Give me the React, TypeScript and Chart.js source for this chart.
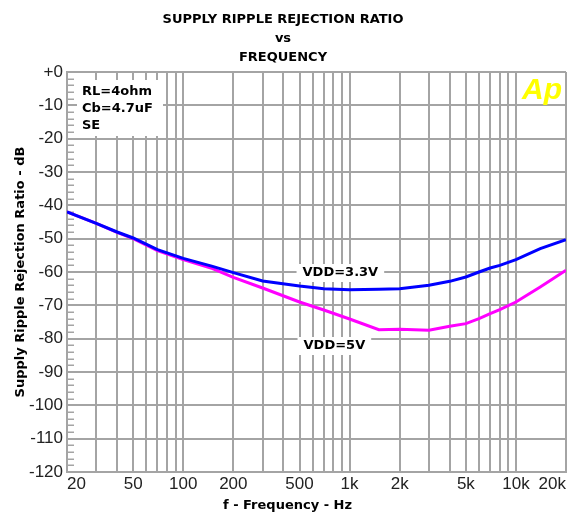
import React, { useEffect, useRef } from 'react';
import { Chart, registerables } from 'chart.js';

Chart.register(...registerables);

// ---- data ----
const frequencyHz = [20, 30, 40, 50, 70, 100, 150, 200, 300, 500, 700, 1000, 1500, 2000, 3000, 4000, 5000, 6000, 7000, 8000, 10000, 14000, 20000];
const vdd33Db = [-42, -45.4, -48, -49.8, -53.3, -55.9, -58.3, -60.2, -62.7, -64.2, -65, -65.3, -65.2, -65, -64, -62.8, -61.5, -60, -58.8, -58, -56.3, -53, -50.3];
const vdd5Db = [-42, -45.4, -48.1, -50, -53.6, -56.3, -59, -61.6, -64.8, -69, -71.4, -74.1, -77.3, -77.2, -77.5, -76.3, -75.5, -74, -72.5, -71.3, -69, -64.5, -59.5];

const xGridHz = [20, 30, 40, 50, 60, 70, 80, 90, 100, 200, 300, 400, 500, 600, 700, 800, 900, 1000, 2000, 3000, 4000, 5000, 6000, 7000, 8000, 9000, 10000, 20000];
const xLabelHz = [20, 50, 100, 200, 500, 1000, 2000, 5000, 10000, 20000];
const xLabelText = ['20', '50', '100', '200', '500', '1k', '2k', '5k', '10k', '20k'];
const yMinDb = -120;
const yMaxDb = 0;
const yStepDb = 10;
const yMinorStepDb = 2;

const titleLines = ['SUPPLY RIPPLE REJECTION RATIO', 'vs', 'FREQUENCY'];
const xTitle = 'f - Frequency - Hz';
const yTitle = 'Supply Ripple Rejection Ratio - dB';
const noteLines = ['RL=4ohm', 'Cb=4.7uF', 'SE'];
const seriesNames = ['VDD=3.3V', 'VDD=5V'];
const logoText = 'Ap';

// label anchors (data coordinates)
const curveLabelAnchors = [
  { text: seriesNames[0], hz: 880, db: -60.3 },
  { text: seriesNames[1], hz: 810, db: -82.2 },
];

const GRID = '#a4a4a4';
const BOLD = '"DejaVu Sans", sans-serif';
const REG = '"Liberation Sans", Arial, sans-serif';

const overlayPlugin = {
  id: 'overlay',
  beforeDatasetsDraw(chart: any) {
    const { ctx, chartArea, scales } = chart;
    const x = scales.x;
    const y = scales.y;
    ctx.save();
    // minor ticks on left axis
    ctx.strokeStyle = GRID;
    ctx.lineWidth = 1.5;
    for (let v = yMinDb + yMinorStepDb; v < yMaxDb; v += yMinorStepDb) {
      if (v % yStepDb === 0) continue;
      const py = Math.round(y.getPixelForValue(v)) + 0.25;
      ctx.beginPath();
      ctx.moveTo(chartArea.left, py);
      ctx.lineTo(chartArea.left + 7, py);
      ctx.stroke();
    }
    // conditions box
    ctx.fillStyle = '#ffffff';
    ctx.fillRect(chartArea.left + 10, chartArea.top + 8, 86, 56);
    ctx.font = `bold 13px ${BOLD}`;
    ctx.fillStyle = '#000000';
    ctx.textBaseline = 'middle';
    ctx.textAlign = 'left';
    noteLines.forEach((t, i) => {
      ctx.fillText(t, chartArea.left + 15, chartArea.top + 20 + i * 17);
    });
    // curve labels
    curveLabelAnchors.forEach((a) => {
      const px = x.getPixelForValue(a.hz);
      const py = y.getPixelForValue(a.db);
      const w = ctx.measureText(a.text).width;
      ctx.fillStyle = '#ffffff';
      ctx.fillRect(px - w / 2 - 6, py - 9, w + 12, 18);
      ctx.fillStyle = '#000000';
      ctx.textAlign = 'center';
      ctx.fillText(a.text, px, py);
    });
    ctx.restore();
  },
  afterDraw(chart: any) {
    const { ctx, chartArea } = chart;
    ctx.save();
    // x axis title centred on the canvas
    ctx.font = `bold 13px ${BOLD}`;
    ctx.fillStyle = '#000000';
    ctx.textAlign = 'center';
    ctx.textBaseline = 'middle';
    ctx.fillText(xTitle, chart.width / 2, chartArea.bottom + 34);
    // logo
    ctx.font = `italic bold 30px ${REG}`;
    ctx.fillStyle = '#ffff00';
    ctx.textAlign = 'right';
    ctx.textBaseline = 'alphabetic';
    ctx.fillText(logoText, chartArea.right - 4, chartArea.top + 27);
    ctx.restore();
  },
};

export default function App() {
  const canvasRef = useRef<HTMLCanvasElement | null>(null);

  useEffect(() => {
    document.body.style.margin = '0';
    const canvas = canvasRef.current;
    if (!canvas) return;
    const chart = new Chart(canvas, {
      type: 'line',
      data: {
        datasets: [
          {
            label: seriesNames[0],
            data: frequencyHz.map((f, i) => ({ x: f, y: vdd33Db[i] })),
            borderColor: '#0000ff',
            backgroundColor: '#0000ff',
            borderWidth: 3,
            pointRadius: 0,
            tension: 0,
          },
          {
            label: seriesNames[1],
            data: frequencyHz.map((f, i) => ({ x: f, y: vdd5Db[i] })),
            borderColor: '#ff00ff',
            backgroundColor: '#ff00ff',
            borderWidth: 3,
            pointRadius: 0,
            tension: 0,
          },
        ],
      },
      options: {
        responsive: false,
        animation: false,
        devicePixelRatio: 1,
        layout: { padding: { left: 0, right: 9, top: 0, bottom: 0 } },
        plugins: {
          legend: { display: false },
          tooltip: { enabled: false },
          title: {
            display: true,
            text: titleLines,
            color: '#000000',
            font: { family: BOLD, size: 13, weight: 'bold', lineHeight: 19 / 13 },
            padding: { top: 10.5, bottom: 4.5 },
          },
        },
        scales: {
          x: {
            type: 'logarithmic',
            min: 20,
            max: 20000,
            afterBuildTicks: (scale: any) => {
              scale.ticks = xGridHz.map((v) => ({ value: v }));
            },
            afterFit: (scale: any) => {
              scale.height = 44;
            },
            ticks: {
              autoSkip: false,
              maxRotation: 0,
              minRotation: 0,
              align: 'inner',
              padding: 2,
              color: '#222222',
              font: { family: REG, size: 17 },
              callback: (value: any) => {
                const idx = xLabelHz.indexOf(Number(value));
                return idx >= 0 ? xLabelText[idx] : '';
              },
            },
            grid: { color: GRID, lineWidth: 2, drawTicks: false },
            border: { display: true, color: GRID, width: 2 },
          },
          y: {
            type: 'linear',
            min: yMinDb,
            max: yMaxDb,
            afterFit: (scale: any) => {
              scale.width = 67;
            },
            ticks: {
              stepSize: yStepDb,
              padding: 4,
              color: '#222222',
              font: { family: REG, size: 17 },
              callback: (value: any) => (Number(value) === 0 ? '+0' : String(value)),
            },
            title: {
              display: true,
              text: yTitle,
              color: '#000000',
              font: { family: BOLD, size: 13, weight: 'bold' },
              padding: { top: 13, bottom: 0 },
            },
            grid: { color: GRID, lineWidth: 2, drawTicks: false },
            border: { display: true, color: GRID, width: 2 },
          },
        },
      },
      plugins: [overlayPlugin],
    } as any);
    return () => chart.destroy();
  }, []);

  return (
    <canvas
      ref={canvasRef}
      width={575}
      height={516}
      style={{ position: 'fixed', left: 0, top: 0, display: 'block', background: '#ffffff' }}
    />
  );
}
